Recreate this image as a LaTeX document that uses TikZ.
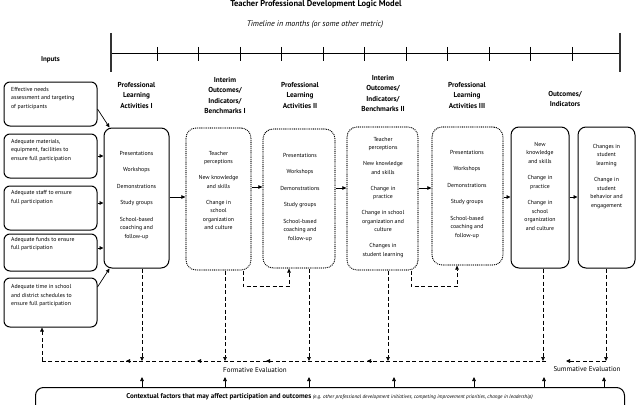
\documentclass[tikz,border=0pt]{standalone}
\usepackage{fontspec}
\setmainfont{PT Sans}
\usetikzlibrary{arrows.meta,calc}
\begin{document}
\begin{tikzpicture}[x=1pt,y=-1pt,
 inbox/.style={draw, line width=1pt, rounded corners=6pt, minimum width=93pt, inner sep=0},
 solidbox/.style={draw, line width=1pt, rounded corners=8pt, inner sep=0},
 dotbox/.style={draw, line width=1.3pt, dash pattern=on 0pt off 1.9pt, line cap=round, rounded corners=10pt, inner sep=0},
 head/.style={font=\fontsize{7.2}{10.5}\selectfont\bfseries, align=center, anchor=north, inner sep=0},
 body/.style={font=\fontsize{5.8}{8.5}\selectfont, align=center, anchor=north, inner sep=0},
 intext/.style={font=\fontsize{5.8}{8.5}\selectfont, align=left, anchor=north west, inner sep=0},
 arr/.style={line width=0.7pt, -{Triangle[length=4pt,width=3.6pt]}},
 dsh/.style={line width=0.6pt, dash pattern=on 4pt off 2.5pt},
 darr/.style={dsh, -{Triangle[length=4pt,width=3.6pt]}},
 evtext/.style={font=\fontsize{7}{8}\selectfont, inner sep=0},
]
\useasboundingbox (0,0) rectangle (639,404);

% title and timeline
\node[font=\fontsize{8.5}{10}\selectfont\bfseries, anchor=north, inner sep=0] (title) at (316,0.6) {Teacher Professional Development Logic Model};
\node[font=\fontsize{8}{10}\selectfont\itshape, anchor=base] (tltext) at (315,27) {Timeline in months (or some other metric)};
\coordinate (tl0) at (111,53);
\coordinate (tl1) at (620,53);
\draw[line width=0.8pt] (tl0) -- (tl1);
\draw[line width=1.2pt, black!80] (111,33) -- (111,72);
\draw[line width=1.2pt, black!80] (620,33) -- (620,72);
\foreach \i in {0,...,10} \draw[line width=0.8pt] ({157+41.5*\i},47) -- ({157+41.5*\i},61);

\node[font=\fontsize{7}{8}\selectfont\bfseries] (inputs) at (50.5,60) {Inputs};

% input boxes
\node[inbox, minimum height=44pt] (in1) at (50.5,104) {};
\node[inbox, minimum height=44pt] (in2) at (50.5,156) {};
\node[inbox, minimum height=44pt] (in3) at (50.5,208) {};
\node[inbox, minimum height=37pt] (in4) at (50.5,252.5) {};
\node[inbox, minimum height=49pt] (in5) at (50.5,302.5) {};
\node[intext] (in1t) at (11,87) {Effective needs\\assessment and targeting\\of participants};
\node[intext] (in2t) at (11,139) {Adequate materials,\\equipment, facilities to\\ensure full participation};
\node[intext] (in3t) at (11,190.5) {Adequate staff to ensure\\full participation};
\node[intext] (in4t) at (11,237) {Adequate funds to ensure\\full participation};
\node[intext] (in5t) at (11,284.5) {Adequate time in school\\and district schedules to\\ensure full participation};

% main boxes
\node[solidbox, minimum width=65pt, minimum height=140pt] (pla1) at (136.5,198) {};
\node[dotbox, minimum width=65pt, minimum height=142pt] (io1) at (218.5,199) {};
\node[dotbox, minimum width=72pt, minimum height=139pt] (pla2) at (299,198.5) {};
\node[dotbox, minimum width=71pt, minimum height=143pt] (io2) at (382.5,198.5) {};
\node[dotbox, minimum width=71pt, minimum height=138pt] (pla3) at (467.5,196) {};
\node[solidbox, minimum width=58pt, minimum height=141pt] (out1) at (540,197.5) {};
\node[solidbox, minimum width=57pt, minimum height=141pt] (out2) at (606.5,197.5) {};

% headings
\node[head] (pla1h) at (136.5,82) {Professional\\Learning\\Activities I};
\node[head] (io1h) at (225,77) {Interim\\Outcomes/\\Indicators/\\Benchmarks I};
\node[head] (pla2h) at (300,82) {Professional\\Learning\\Activities II};
\node[head] (io2h) at (383,75) {Interim\\Outcomes/\\Indicators/\\Benchmarks II};
\node[head] (pla3h) at (467,82) {Professional\\Learning\\Activities III};
\node[head] (outh) at (565,91) {Outcomes/\\Indicators};

% body texts
\node[body] (pla1t) at (136.5,151) {Presentations\\[8pt]Workshops\\[8pt]Demonstrations\\[8pt]Study groups\\[8pt]School-based\\coaching and\\follow-up};
\node[body] (io1t) at (218.5,151) {Teacher\\perceptions\\[7.5pt]New knowledge\\and skills\\[7.5pt]Change in\\school\\organization\\and culture};
\node[body] (pla2t) at (300,153) {Presentations\\[8pt]Workshops\\[8pt]Demonstrations\\[8pt]Study groups\\[8pt]School-based\\coaching and\\follow-up};
\node[body] (io2t) at (383,137) {Teacher\\perceptions\\[7.5pt]New knowledge\\and skills\\[7.5pt]Change in\\practice\\[7.5pt]Change in school\\organization and\\culture\\[7.5pt]Changes in\\student learning};
\node[body] (pla3t) at (467,150) {Presentations\\[8pt]Workshops\\[8pt]Demonstrations\\[8pt]Study groups\\[8pt]School-based\\coaching and\\follow-up};
\node[body] (out1t) at (540,142) {New\\knowledge\\and skills\\[8pt]Change in\\practice\\[8pt]Change in\\school\\organization\\and culture};
\node[body] (out2t) at (606.5,144) {Changes in\\student\\learning\\[8pt]Change in\\student\\behavior and\\engagement};

% input arrows
\coordinate (y156) at (0,156);
\coordinate (y203) at (0,203);
\coordinate (y248) at (0,248);
\draw[arr] ([yshift=-5pt]in1.east) -- ([xshift=6pt]pla1.north west);
\draw[arr] (in2.east |- y156) -- (pla1.west |- y156);
\draw[arr] (in3.east |- y203) -- (pla1.west |- y203);
\draw[arr] (in4.east |- y248) -- (pla1.west |- y248);
\draw[arr] ([yshift=15.5pt]in5.east) -- ([xshift=6pt]pla1.south west);

% arrows between boxes
\coordinate (y197) at (0,197);
\coordinate (y187) at (0,187);
\coordinate (y188) at (0,188);
\draw[arr] (pla1.east |- y197) -- (io1.west |- y197);
\draw[arr] (io1.east |- y187) -- (pla2.west |- y187);
\draw[arr] (pla2.east |- y188) -- (io2.west |- y188);
\draw[arr] (io2.east |- y188) -- (pla3.west |- y188);
\draw[arr] (pla3.east |- y197) -- (out1.west |- y197);
\draw[arr] (out1.east |- y197) -- (out2.west |- y197);

% feedback loops
\draw[darr] ([xshift=24.5pt]io1.south) -- ++(0,16) -| ([xshift=-10pt]pla2.south);
\draw[darr] ([xshift=28.5pt]io2.south) -- ++(0,16) -| ([xshift=-10.5pt]pla3.south);

% evaluation line
\coordinate (ev1) at (142,361);
\coordinate (ev2) at (225,361);
\coordinate (ev3) at (309,361);
\coordinate (ev4) at (388,361);
\coordinate (ev5) at (543,361);
\coordinate (ev6) at (606,361);
\coordinate (evL) at (42,361);
\coordinate (evR) at (546,361);
\draw[darr] ([xshift=5.5pt]pla1.south) -- (ev1);
\draw[darr] ([xshift=6.5pt]io1.south) -- (ev2);
\draw[darr] ([xshift=10pt]pla2.south) -- (ev3);
\draw[darr] ([xshift=5.5pt]io2.south) -- (ev4);
\draw[darr] ([xshift=3pt]out1.south) -- (ev5);
\draw[darr] ([xshift=-0.5pt]out2.south) -- (ev6);
\draw[dsh] (evR) -- (evL);
\draw[darr] (evL) -- (in5.south -| evL);
\foreach \x in {126,197,266,367} \draw[arr] (\x+5,361) -- (\x,361);
\draw[dsh] (ev6) -- (571,361);
\draw[arr] (571,361) -- (566,361);
\node[evtext] (form) at (255,370) {Formative Evaluation};
\node[evtext] (summ) at (587,369) {Summative Evaluation};

% contextual factors
\node[draw, line width=1pt, rounded corners=8pt, minimum width=589pt, minimum height=40pt, anchor=north west, inner sep=0] (ctx) at (35,387) {};
\node[font=\fontsize{7}{8}\selectfont, inner sep=0] (ctxt) at (329.5,397) {\bfseries Contextual factors that may affect participation and outcomes \mdseries\itshape\fontsize{5.2}{6}\selectfont (e.g. other professional development initiatives, competing improvement priorities, change in leadership)};
\foreach \x in {142,225,309,394,474,544,604} \draw[arr] (ctx.north -| \x,0) -- (\x,377);
\end{tikzpicture}
\end{document}
